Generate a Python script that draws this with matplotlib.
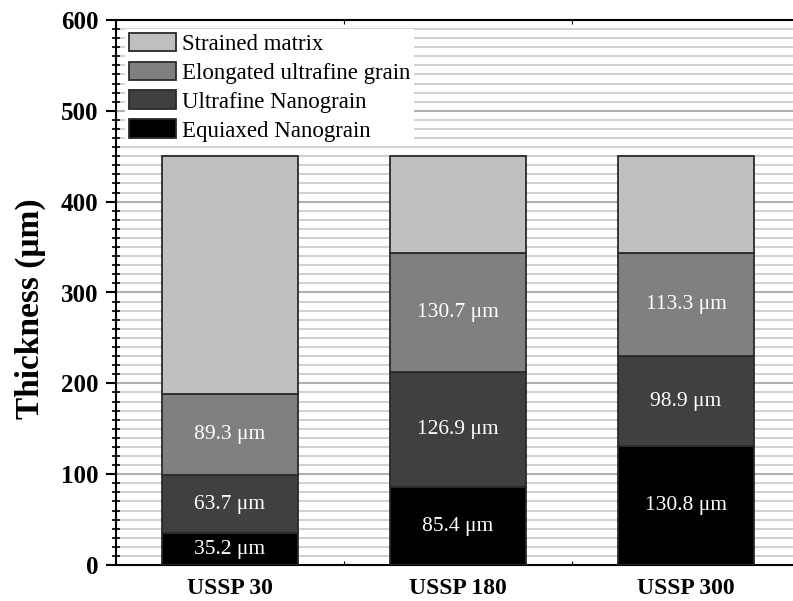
import numpy as np
import matplotlib.pyplot as plt
from matplotlib.ticker import MultipleLocator

# Layer thicknesses (um) per treatment, bottom to top
samples = ['USSP 30', 'USSP 180', 'USSP 300']
equiaxed = [35.2, 85.4, 130.8]
ultrafine = [63.7, 126.9, 98.9]
elongated = [89.3, 130.7, 113.3]
total_depth = 450.0
strained = [total_depth - (a + b + c) for a, b, c in zip(equiaxed, ultrafine, elongated)]

layer_names = ['Equiaxed Nanograin', 'Ultrafine Nanograin',
               'Elongated ultrafine grain', 'Strained matrix']
layer_colors = ['#000000', '#404040', '#808080', '#c0c0c0']
labelled = [True, True, True, False]

plt.rcParams['font.family'] = ['Liberation Serif', 'DejaVu Serif']

fig = plt.figure(figsize=(7.93, 6.01), dpi=100)
ax = fig.add_axes([116/793, 1 - 565/601, (800 - 116)/793, (565 - 20)/601])

x = np.arange(len(samples))
bottom = np.zeros(len(samples))
for name, vals, color, show in zip(layer_names, [equiaxed, ultrafine, elongated, strained],
                                   layer_colors, labelled):
    vals = np.array(vals)
    ax.bar(x, vals, 0.6, bottom=bottom, color=color, edgecolor='#2a2a2a',
           linewidth=1.3, label=name, zorder=3)
    if show:
        for xi, v, b0 in zip(x, vals, bottom):
            ax.text(xi, b0 + v / 2, f'{v:.1f} \u03bcm', ha='center', va='center',
                    color='white', fontsize=15.5, zorder=4)
    bottom += vals

ax.set_xlim(-0.5, 2.5)
ax.set_ylim(0, 600)
ax.set_xticks(x)
ax.set_xticklabels(samples, fontsize=17, fontweight='bold')
ax.xaxis.set_minor_locator(MultipleLocator(0.5))
ax.yaxis.set_major_locator(MultipleLocator(100))
ax.yaxis.set_minor_locator(MultipleLocator(10))
for lbl in ax.get_yticklabels():
    lbl.set_fontweight('bold')
    lbl.set_fontsize(18)

ax.tick_params(axis='y', which='major', direction='out', length=7, width=1.5,
               pad=5.5, right=True)
ax.tick_params(axis='y', which='minor', direction='inout', length=6, width=1.2,
               right=True)
ax.tick_params(axis='x', which='major', direction='in', length=0, pad=9)
ax.tick_params(axis='x', which='minor', direction='in', length=3, width=0.8, top=True)

ax.grid(axis='y', which='minor', color='#d2d2d2', linewidth=1.5, zorder=0)
ax.grid(axis='y', which='major', color='#b0b0b0', linewidth=1.5, zorder=0)
ax.set_axisbelow(True)
for sp in ax.spines.values():
    sp.set_linewidth(1.5)

ax.set_ylabel('Thickness (\u03bcm)', fontsize=24, fontweight='bold')
ax.yaxis.set_label_coords(-0.103, 0.47)

handles, labels = ax.get_legend_handles_labels()
leg = ax.legend(handles[::-1], labels[::-1], loc='upper left', fontsize=16.5,
                frameon=True, fancybox=False, edgecolor='none', framealpha=1,
                borderaxespad=0.4, handlelength=2.05, handleheight=0.85,
                labelspacing=0.3, handletextpad=0.3, borderpad=0.15)
leg.get_frame().set_linewidth(0)

fig.savefig('out.png', dpi=100)
